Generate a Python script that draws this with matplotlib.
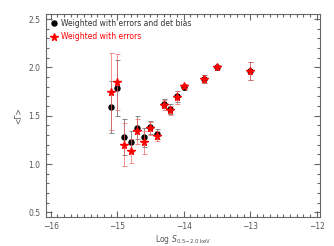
import matplotlib
matplotlib.use("Agg")
import matplotlib.pyplot as plt
from matplotlib.ticker import MultipleLocator

# Binned flux vs mean photon index
log_s = [-15.1, -15.0, -14.9, -14.8, -14.7, -14.6, -14.5, -14.4,
         -14.3, -14.2, -14.1, -14.0, -13.7, -13.5, -13.0]
gamma_bias = [1.59, 1.79, 1.28, 1.23, 1.375, 1.275, 1.38, 1.31,
              1.625, 1.57, 1.70, 1.80, 1.88, 2.005, 1.96]
err_bias = [0.27, 0.29, 0.19, 0.11, 0.12, 0.10, 0.07, 0.05,
            0.05, 0.05, 0.06, 0.03, 0.045, 0.025, 0.095]
gamma_err = [1.75, 1.845, 1.20, 1.135, 1.34, 1.225, 1.37, 1.29,
             1.61, 1.555, 1.69, 1.805, 1.88, 2.005, 1.96]
err_err = [0.40, 0.29, 0.225, 0.12, 0.13, 0.12, 0.07, 0.05,
           0.05, 0.05, 0.065, 0.02, 0.045, 0.02, 0.095]

def main():
    fig = plt.figure(figsize=(3.34, 2.46), dpi=100)
    ax = fig.add_axes([0.138, 0.119, 0.82, 0.823])
    gray = "#666666"

    # error bars first, then the symbols
    ax.errorbar(log_s, gamma_bias, yerr=err_bias, fmt="none", ecolor="#555555",
                elinewidth=0.6, capsize=1.8, capthick=0.6, alpha=0.8)
    ax.plot(log_s, gamma_bias, "o", color="black", markersize=3.6,
            linestyle="none", label="Weighted with errors and det bias")
    ax.errorbar(log_s, gamma_err, yerr=err_err, fmt="none", ecolor="#f06060",
                elinewidth=0.6, capsize=1.8, capthick=0.6, alpha=0.8)
    ax.plot(log_s, gamma_err, "*", color="red", markersize=5.5,
            linestyle="none", label="Weighted with errors")

    ax.set_xlim(-16.07, -11.95)
    ax.set_ylim(0.455, 2.55)
    ax.xaxis.set_major_locator(MultipleLocator(1))
    ax.xaxis.set_minor_locator(MultipleLocator(0.1))
    ax.yaxis.set_major_locator(MultipleLocator(0.5))
    ax.yaxis.set_minor_locator(MultipleLocator(0.1))
    ax.xaxis.set_major_formatter(plt.FuncFormatter(lambda v, p: "\u2212%d" % abs(v)))
    ax.yaxis.set_major_formatter(plt.FuncFormatter(lambda v, p: "%.1f" % v))
    ax.tick_params(which="both", direction="in", top=True, right=True,
                   colors=gray, labelcolor="#555555", labelsize=5.5, width=0.8, pad=4)
    ax.tick_params(which="major", length=4.5)
    ax.tick_params(which="minor", length=2.2)
    for sp in ax.spines.values():
        sp.set_color(gray)
        sp.set_linewidth(0.8)

    ax.set_xlabel(r"Log $S_{\mathrm{0.5\!-\!2.0\ keV}}$", fontsize=5.5, color="#555555", labelpad=1)
    ax.set_ylabel("<\u0393>", fontsize=5.5, color="#555555", labelpad=4)

    ax.legend(loc="upper left", frameon=False, fontsize=5.5, labelcolor=["#333333", "red"],
              handlelength=0.8, handletextpad=0.5, borderaxespad=0.2, labelspacing=0.6,
              markerscale=1.0)

    fig.savefig("out.png", dpi=100)

if __name__ == "__main__":
    main()
